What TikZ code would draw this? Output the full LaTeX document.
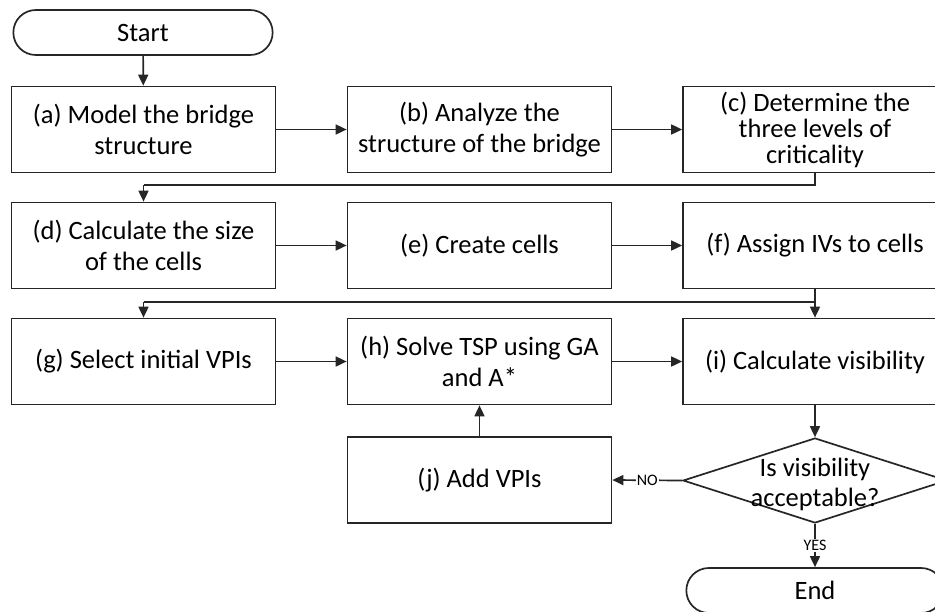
\documentclass[tikz,border=0pt]{standalone}
\usepackage{fontspec}
\setmainfont{Carlito}
\usetikzlibrary{arrows.meta,shapes.geometric,shapes.misc}

\tikzset{
  flowline/.style={line width=1.7pt, draw=black!85},
  arr/.style={flowline, -{Triangle[length=11pt,width=10pt]}},
  procbox/.style={draw=black!85, line width=1.7pt, rectangle, minimum width=264pt,
    minimum height=86pt, align=center, font=\fontsize{26.5}{31}\selectfont, inner sep=2pt},
  terminal/.style={draw=black!85, line width=1.7pt, rounded rectangle, minimum width=266pt,
    minimum height=45pt, font=\fontsize{26.5}{31}\selectfont},
  decision/.style={draw=black!85, line width=1.7pt, diamond, minimum width=264pt,
    minimum height=85pt, inner sep=0pt},
  decisiontext/.style={align=center, inner sep=0pt, font=\fontsize{26.5}{30}\selectfont},
  branchlabel/.style={fill=white, inner sep=1pt, font=\fontsize{16}{18}\selectfont},
}

\begin{document}
\begin{tikzpicture}[x=1pt, y=-1pt]
\clip (0,0) rectangle (935,611);

% terminals
\node[terminal] (start) at (143,32.5) {Start};
\node[terminal, minimum width=264pt] (end) at (815,590.5) {End};

% first row
\node[procbox] (a) at (143.5,129.5) {(a) Model the bridge\\structure};
\node[procbox] (b) at (479.5,129.5) {(b) Analyze the\\structure of the bridge};
\node[procbox, font=\fontsize{26.5}{26}\selectfont] (c) at (815,129.5) {(c) Determine the\\three levels of\\criticality};

% second row
\node[procbox] (d) at (143.5,245.5) {(d) Calculate the size\\of the cells};
\node[procbox] (e) at (479.5,245.5) {(e) Create cells};
\node[procbox] (f) at (815,245.5) {(f) Assign IVs to cells};

% third row
\node[procbox] (g) at (143.5,361.5) {(g) Select initial VPIs};
\node[procbox] (h) at (479.5,361.5) {(h) Solve TSP using GA\\and A*};
\node[procbox] (i) at (815,361.5) {(i) Calculate visibility};

% loop back and decision
\node[procbox] (j) at (479.5,480) {(j) Add VPIs};
\node[decision] (q) at (815,480.5) {};
\node[decisiontext] (qt) at (815,484) {Is visibility\\acceptable?};

% row-change junctions
\coordinate (r1) at (815,185);
\coordinate (r1l) at (143.5,185);
\coordinate (r2) at (815,302);
\coordinate (r2l) at (143.5,302);

% connectors
\draw[arr] (start) -- (a);
\draw[arr] (a) -- (b);
\draw[arr] (b) -- (c);
\draw[flowline] (c.south) -- (r1) -- (r1l);
\draw[arr] (r1l) -- (d.north);
\draw[arr] (d) -- (e);
\draw[arr] (e) -- (f);
\draw[flowline] (f.south) -- (r2) -- (r2l);
\draw[arr] (r2l) -- (g.north);
\draw[arr] (r2) -- (i.north);
\draw[arr] (g) -- (h);
\draw[arr] (h) -- (i);
\draw[arr] (i) -- (q.north);
\draw[arr] (q.west) -- node[branchlabel] {NO} (j.east);
\draw[arr] (j) -- (h);
\draw[arr] (q.south) -- node[branchlabel] {YES} (end.north);
\end{tikzpicture}
\end{document}
